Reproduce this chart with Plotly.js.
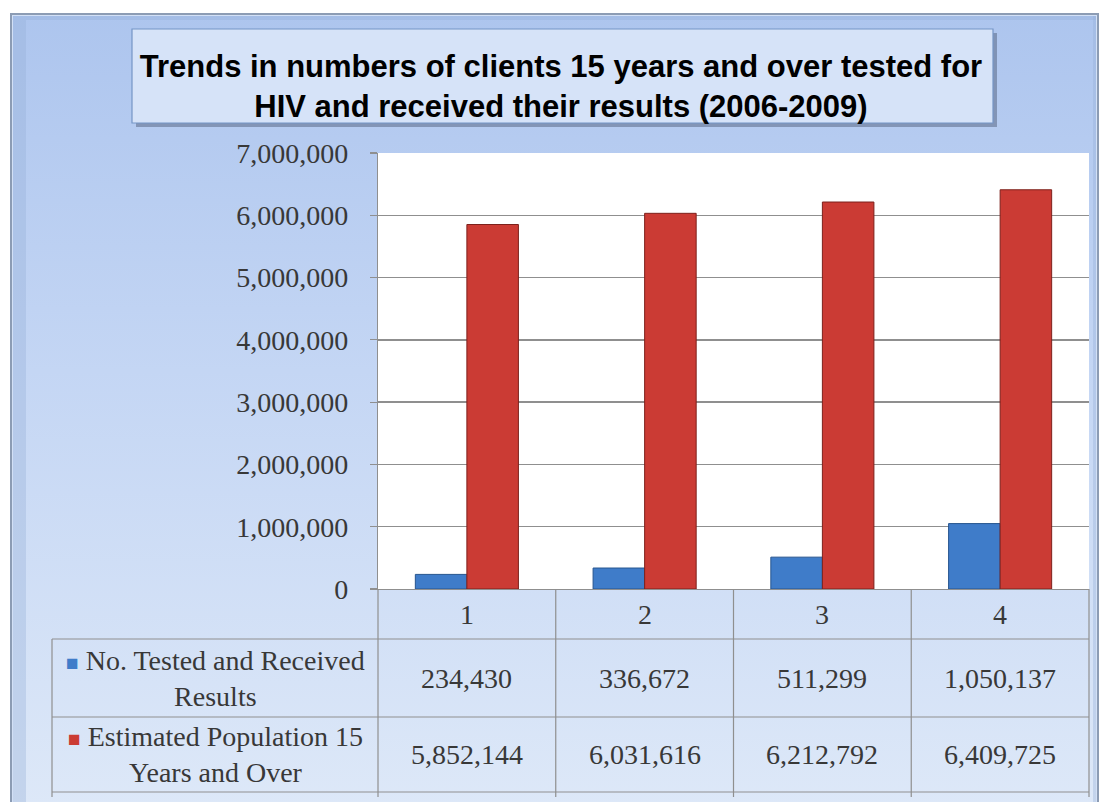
<!DOCTYPE html>
<html>
<head>
<meta charset="utf-8">
<script src="https://cdn.plot.ly/plotly-3.0.1.min.js"></script>
<style>
  html, body { margin: 0; padding: 0; background: #ffffff; }
  #wrap { position: relative; width: 1101px; height: 802px; overflow: hidden; background: #ffffff; }
  #frame {
    position: absolute; left: 10px; top: 13px; width: 1085px; height: 790px;
    border: 2px solid #8c9cb4; border-bottom: none;
    background: linear-gradient(to bottom, #adc5ee 0%, #c4d6f4 45%, #dde8f8 100%);
    box-shadow: inset 0 0 0 1px #d2e0f6, inset 15px 6px 0 -1px rgba(150,175,215,0.35), inset -4px 0 0 0 rgba(150,175,215,0.35);
  }
  #chart { position: absolute; left: 0; top: 0; width: 1101px; height: 802px; }
</style>
</head>
<body>
<div id="wrap">
  <div id="frame"></div>
  <div id="chart"></div>
</div>
<script>
// ---- data ----
var categories = ['1', '2', '3', '4'];
var seriesNames = ['No. Tested and Received<br>Results', 'Estimated Population 15<br>Years and Over'];
var testedValues = [234430, 336672, 511299, 1050137];
var populationValues = [5852144, 6031616, 6212792, 6409725];
var titleText = 'Trends in numbers of clients 15 years and over tested for<br>HIV and received their results (2006-2009)';

// ---- styling ----
var blue = '#3f7cc9', blueLine = '#27558f';
var red = '#cb3b34', redLine = '#7d211c';
var gridColor = '#8f8f8f';
var txtColor = '#383838';
var serif = 'Liberation Serif, DejaVu Serif, serif';

var traces = [
  { type: 'bar', name: 'No. Tested and Received Results', x: categories, y: testedValues,
    marker: { color: blue, line: { color: blueLine, width: 1 } }, hoverinfo: 'x+y' },
  { type: 'bar', name: 'Estimated Population 15 Years and Over', x: categories, y: populationValues,
    marker: { color: red, line: { color: redLine, width: 1 } }, hoverinfo: 'x+y' }
];

// table geometry (pixel offsets from plot-area bottom-left corner)
var plotW = 1089 - 378;
var rowLines = [-50, -128, -203];
var colCount = categories.length;
var shapes = [];
var lineStyle = { color: gridColor, width: 1.2 };

// title box shadow + box
shapes.push({ type: 'rect', xref: 'paper', yref: 'paper', xsizemode: 'pixel', ysizemode: 'pixel',
  xanchor: 0, yanchor: 1, x0: -242, x1: 619, y0: 120, y1: 26,
  fillcolor: 'rgba(70,85,110,0.45)', line: { width: 0 }, layer: 'below' });
shapes.push({ type: 'rect', xref: 'paper', yref: 'paper', xsizemode: 'pixel', ysizemode: 'pixel',
  xanchor: 0, yanchor: 1, x0: -246, x1: 615, y0: 124, y1: 30,
  fillcolor: '#d6e3f8', line: { color: '#7595c6', width: 1.2 }, layer: 'below' });

rowLines.forEach(function (dy) {
  shapes.push({ type: 'line', xref: 'paper', yref: 'paper', xsizemode: 'pixel', ysizemode: 'pixel',
    xanchor: 0, yanchor: 0, x0: -326, x1: plotW, y0: dy, y1: dy, line: lineStyle });
});
shapes.push({ type: 'line', xref: 'paper', yref: 'paper', xsizemode: 'pixel', ysizemode: 'pixel',
  xanchor: 0, yanchor: 0, x0: -326, x1: -326, y0: -50, y1: -208, line: lineStyle });
for (var c = 0; c <= colCount; c++) {
  shapes.push({ type: 'line', xref: 'paper', yref: 'paper', ysizemode: 'pixel',
    yanchor: 0, x0: c / colCount, x1: c / colCount, y0: 0, y1: -208, line: lineStyle });
}

var annotations = [];
categories.forEach(function (cat, i) {
  annotations.push({ xref: 'x', yref: 'paper', x: i, y: 0, yshift: -25, yanchor: 'middle',
    text: cat, showarrow: false, font: { family: serif, size: 28, color: txtColor } });
});
var rows = [testedValues, populationValues];
var rowShift = [-89, -165];
var markerColors = [blue, red];
rows.forEach(function (vals, r) {
  vals.forEach(function (v, i) {
    annotations.push({ xref: 'x', yref: 'paper', x: i, y: 0, yshift: rowShift[r], yanchor: 'middle',
      text: v.toLocaleString('en-US'), showarrow: false,
      font: { family: serif, size: 28, color: txtColor } });
  });
  annotations.push({ xref: 'paper', yref: 'paper', x: 0, xshift: -163, xanchor: 'center',
    y: 0, yshift: rowShift[r], yanchor: 'middle', align: 'center',
    text: '<span style="font-size:21px;color:' + markerColors[r] + '">■</span> ' + seriesNames[r],
    showarrow: false, font: { family: serif, size: 28, color: txtColor } });
});

var layout = {
  width: 1101, height: 802,
  margin: { l: 378, r: 12, t: 153, b: 213, pad: 0 },
  paper_bgcolor: 'rgba(0,0,0,0)',
  plot_bgcolor: '#ffffff',
  showlegend: false,
  barmode: 'group', bargap: 0.42, bargroupgap: 0,
  title: { text: titleText, xref: 'container', yref: 'container', x: 0.5095, xanchor: 'center',
    y: 1 - 77 / 802, yanchor: 'middle',
    font: { family: 'Liberation Sans, Arial, sans-serif', size: 31, weight: 'bold', color: '#000000' } },
  xaxis: { type: 'category', showticklabels: false, ticks: '', showgrid: false,
    showline: true, linecolor: gridColor, linewidth: 1.2, zeroline: false, fixedrange: true },
  yaxis: { range: [0, 7000000], dtick: 1000000, tickformat: ',d',
    showgrid: true, gridcolor: gridColor, gridwidth: 1.3, zeroline: false,
    showline: true, linecolor: gridColor, linewidth: 1.2,
    ticks: 'outside', ticklen: 7, tickcolor: gridColor, tickwidth: 1.2,
    ticklabelstandoff: 16,
    tickfont: { family: serif, size: 28, color: txtColor }, fixedrange: true },
  shapes: shapes,
  annotations: annotations
};

Plotly.newPlot('chart', traces, layout, { displayModeBar: false, staticPlot: true });
</script>
</body>
</html>
